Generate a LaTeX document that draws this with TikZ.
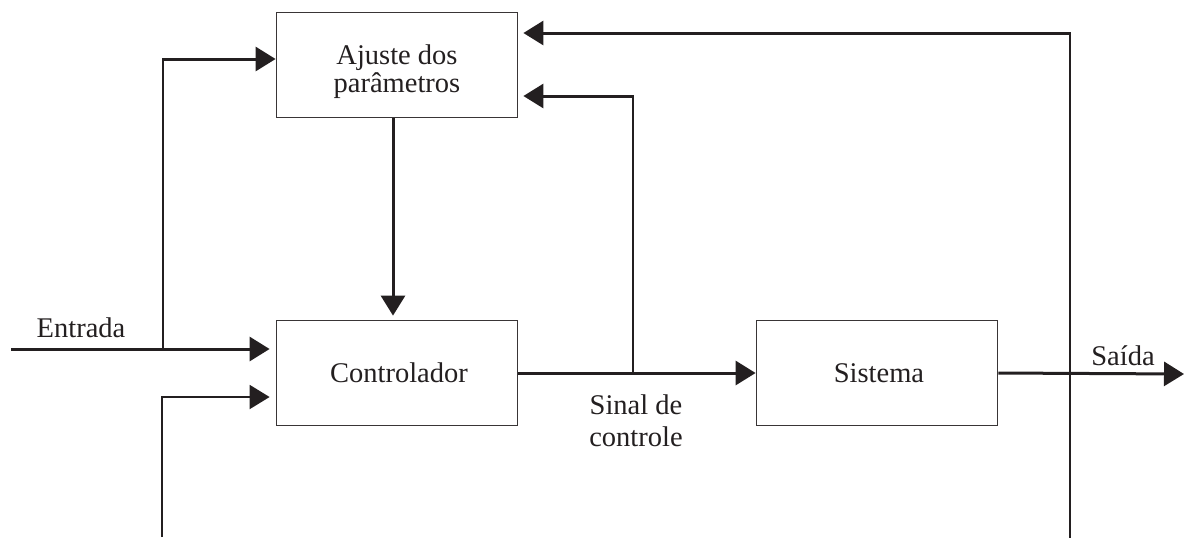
\documentclass[tikz,border=0pt]{standalone}
\usepackage{fontspec}
\setmainfont{Liberation Serif}
\usetikzlibrary{arrows.meta,calc}
\definecolor{ink}{HTML}{231F20}
\begin{document}
\begin{tikzpicture}[x=0.5pt,y=-0.5pt,
  blockbox/.style={draw=ink!90,line width=0.9pt,minimum width=120.5pt,minimum height=52.5pt,inner sep=0pt},
  lbl/.style={font=\fontsize{14.25}{16}\selectfont,inner sep=0pt,align=center,text=ink},
  main/.style={line width=1.5pt,draw=ink,line cap=rect},
  thinline/.style={line width=1pt,draw=ink,line cap=rect},
  tip/.style={-{Triangle[length=10pt,width=12pt]},line cap=butt}]
\useasboundingbox (0,0) rectangle (1184,537);
% blocks
\node[blockbox] (aj) at (397,65) {};
\node[blockbox] (ctrl) at (397,373) {};
\node[blockbox] (sis) at (877,373) {};
% block texts
\node[lbl,font=\fontsize{14.25}{14}\selectfont] (ajt) at ([yshift=-3.5pt]aj.center) {Ajuste dos\\parâmetros};
\node[lbl] (ctrlt) at ([xshift=1pt]ctrl.center) {Controlador};
\node[lbl] (sist) at ([xshift=1pt]sis.center) {Sistema};
% coordinates
\coordinate (in) at (11,349);
\coordinate (j1) at (163,349);
\coordinate (c1) at (163,59);
\coordinate (fb1) at (162,537);
\coordinate (j2) at (633,373);
\coordinate (c2) at (633,96);
\coordinate (fb2) at (1070,537);
\coordinate (c3) at (1070,33);
\coordinate (out) at (1184,374);
% connectors
\draw[main,tip,shorten >=3pt] (in) -- ([yshift=12pt]ctrl.west);
\draw[thinline] (j1) -- (c1);
\draw[main,tip] (c1) -- (c1 -| aj.west);
\draw[thinline,tip,shorten >=3pt] (fb1) |- ([yshift=-12pt]ctrl.west);
\draw[main,tip,shorten >=2pt] ([xshift=-2pt]aj.south) -- ([xshift=-2pt]ctrl.north);
\draw[main,tip] (ctrl.east) -- (sis.west);
\draw[thinline] (j2) -- (c2);
\draw[main,tip,shorten >=2.5pt] (c2) -- (c2 -| aj.east);
\draw[thinline] (fb2) -- (c3);
\draw[main,tip,shorten >=2.5pt] (c3) -- (c3 -| aj.east);
\draw[main,tip] (sis.east) -- (out);
% labels
\node[lbl,anchor=base] (lin) at (81,337) {Entrada};
\node[lbl,anchor=base] (lout) at (1123,365) {Saída};
\node[lbl] (lsig) at (636,421) {Sinal de\\controle};
\end{tikzpicture}
\end{document}
